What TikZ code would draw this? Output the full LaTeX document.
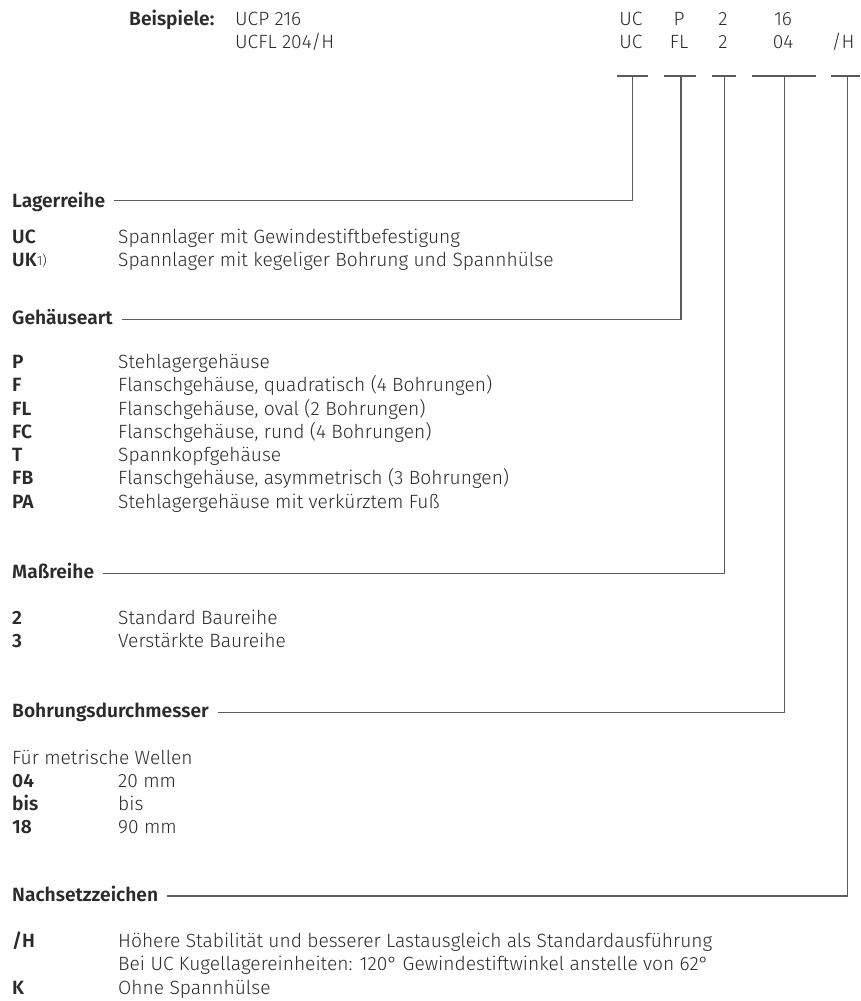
\documentclass[tikz,border=0pt]{standalone}
\usepackage{fontspec}
\setmainfont{Fira Sans}[UprightFont=* Light, BoldFont=* SemiBold]
\definecolor{txt}{HTML}{2B2B2B}
\definecolor{ln}{HTML}{5A5A5A}
\begin{document}
\begin{tikzpicture}[x=1pt,y=-1pt,
  lbl/.style={inner sep=0pt, anchor=base west, text=txt, font=\fontsize{19.2}{23}\selectfont},
  hd/.style={lbl, font=\fontsize{19.2}{23}\selectfont\bfseries},
  code/.style={lbl, font=\fontsize{19.2}{23}\selectfont\bfseries},
  cen/.style={lbl, anchor=base},
  conn/.style={draw=ln, line width=1.3pt}]
\useasboundingbox (0,0) rectangle (860,1001);

% header
\node[hd] (beisp) at (129,25) {Beispiele:};
\node[lbl] (ex1) at (235,25) {UCP 216};
\node[lbl] (ex2) at (235,48.3) {UCFL 204/H};

\node[cen] (a1) at (631,25) {UC};
\node[cen] (a2) at (679,25) {P};
\node[cen] (a3) at (723,25) {2};
\node[cen] (a4) at (783,25) {16};
\node[cen] (b1) at (631,48.3) {UC};
\node[cen] (b2) at (679,48.3) {FL};
\node[cen] (b3) at (723,48.3) {2};
\node[cen] (b4) at (783,48.3) {04};
\node[cen] (b5) at (843,48.3) {/H};

% bars
\coordinate (s1a) at (617,76);   \coordinate (s1b) at (648,76);   \coordinate (t1) at (632.7,76);
\coordinate (s2a) at (664,76);   \coordinate (s2b) at (696,76);   \coordinate (t2) at (681,76);
\coordinate (s3a) at (712,76);   \coordinate (s3b) at (736,76);   \coordinate (t3) at (724.7,76);
\coordinate (s4a) at (752,76);   \coordinate (s4b) at (816,76);   \coordinate (t4) at (784.3,76);
\coordinate (s5a) at (831,76);   \coordinate (s5b) at (860,76);   \coordinate (t5) at (847.3,76);
\coordinate (c1) at (632.7,200.7);
\coordinate (c2) at (681,319.3);
\coordinate (c3) at (724.7,573.3);
\coordinate (c4) at (784.3,712.3);
\coordinate (c5) at (847.3,896);

\foreach \i in {1,...,5} { \draw[conn] (s\i a) -- (s\i b); }

% Lagerreihe
\node[hd] (h1) at (12,207) {Lagerreihe};
\node[code] (k11) at (12,243.5) {UC};
\node[lbl] (d11) at (118,243.5) {Spannlager mit Gewindestiftbefestigung};
\node[code] (k12) at (12,266.8) {UK\textmd{\fontsize{13.5}{13}\selectfont\raisebox{1.5pt}{1)}}};
\node[lbl] (d12) at (118,266.8) {Spannlager mit kegeliger Bohrung und Spannhülse};

% Gehäuseart
\node[hd] (h2) at (12,324.5) {Gehäuseart};
\node[code] (k21) at (12,368.5) {P};
\node[lbl] (d21) at (118,368.5) {Stehlagergehäuse};
\node[code] (k22) at (12,391.7) {F};
\node[lbl] (d22) at (118,391.7) {Flanschgehäuse, quadratisch (4 Bohrungen)};
\node[code] (k23) at (12,415) {FL};
\node[lbl] (d23) at (118,415) {Flanschgehäuse, oval (2 Bohrungen)};
\node[code] (k24) at (12,438.3) {FC};
\node[lbl] (d24) at (118,438.3) {Flanschgehäuse, rund (4 Bohrungen)};
\node[code] (k25) at (12,461.5) {T};
\node[lbl] (d25) at (118,461.5) {Spannkopfgehäuse};
\node[code] (k26) at (12,484.8) {FB};
\node[lbl] (d26) at (118,484.8) {Flanschgehäuse, asymmetrisch (3 Bohrungen)};
\node[code] (k27) at (12,508) {PA};
\node[lbl] (d27) at (118,508) {Stehlagergehäuse mit verkürztem Fuß};

% Maßreihe
\node[hd] (h3) at (12,578.5) {Maßreihe};
\node[code] (k31) at (12,624) {2};
\node[lbl] (d31) at (118,624) {Standard Baureihe};
\node[code] (k32) at (12,647.5) {3};
\node[lbl] (d32) at (118,647.5) {Verstärkte Baureihe};

% Bohrungsdurchmesser
\node[hd] (h4) at (12,717) {Bohrungsdurchmesser};
\node[lbl] (d40) at (12,764) {Für metrische Wellen};
\node[code] (k41) at (12,787) {04};
\node[lbl] (d41) at (118,787) {20 mm};
\node[code] (k42) at (12,810) {bis};
\node[lbl] (d42) at (118,810) {bis};
\node[code] (k43) at (12,833) {18};
\node[lbl] (d43) at (118,833) {90 mm};

% Nachsetzzeichen
\node[hd] (h5) at (12,901) {Nachsetzzeichen};
\node[code] (k51) at (12,947.5) {/H};
\node[lbl] (d51) at (118,947.5) {Höhere Stabilität und besserer Lastausgleich als Standardausführung};
\node[lbl] (d52) at (118,970.8) {Bei UC Kugellagereinheiten: 120° Gewindestiftwinkel anstelle von 62°};
\node[code] (k53) at (12,994) {K};
\node[lbl] (d53) at (118,994) {Ohne Spannhülse};

% connectors
\draw[conn] ([xshift=9pt]h1.east |- c1) -- (c1) -- (t1);
\draw[conn] ([xshift=9pt]h2.east |- c2) -- (c2) -- (t2);
\draw[conn] ([xshift=9pt]h3.east |- c3) -- (c3) -- (t3);
\draw[conn] ([xshift=9pt]h4.east |- c4) -- (c4) -- (t4);
\draw[conn] ([xshift=9pt]h5.east |- c5) -- (c5) -- (t5);
\end{tikzpicture}
\end{document}
